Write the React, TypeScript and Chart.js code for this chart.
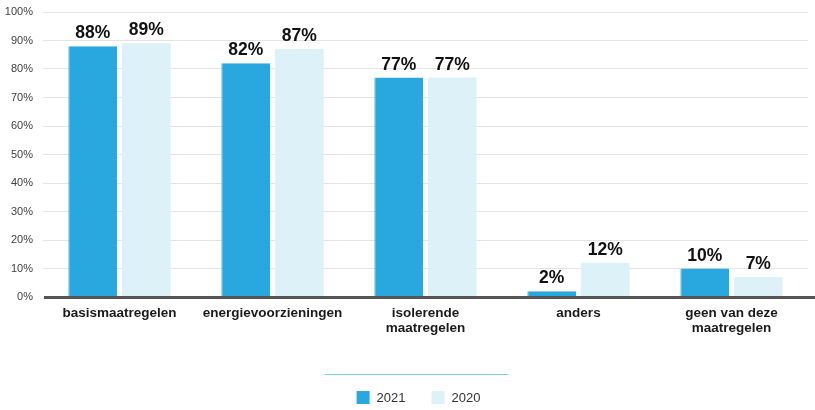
import React, { useEffect, useRef } from "react";
import { Chart, registerables } from "chart.js";

Chart.register(...registerables);

const categories: (string | string[])[] = [
  "basismaatregelen",
  "energievoorzieningen",
  ["isolerende", "maatregelen"],
  "anders",
  ["geen van deze", "maatregelen"],
];
const values2021 = [88, 82, 77, 2, 10];
const values2020 = [89, 87, 77, 12, 7];
const seriesLabels = ["2021", "2020"];
const yTicks = [0, 10, 20, 30, 40, 50, 60, 70, 80, 90, 100];

const FONT = "Arial, 'Liberation Sans', sans-serif";

const overlayPlugin = {
  id: "overlay",
  afterDatasetsDraw(chart: any) {
    const ctx = chart.ctx;
    const area = chart.chartArea;
    const yScale = chart.scales.y;
    const y0 = yScale.getPixelForValue(0);
    ctx.save();
    // zero axis line
    ctx.strokeStyle = "#555555";
    ctx.lineWidth = 3;
    ctx.beginPath();
    ctx.moveTo(area.left + 1, y0 + 0.5);
    ctx.lineTo(chart.width, y0 + 0.5);
    ctx.stroke();

    // value labels
    ctx.font = `bold 17.5px ${FONT}`;
    ctx.fillStyle = "#111111";
    ctx.textAlign = "center";
    ctx.textBaseline = "bottom";
    chart.data.datasets.forEach((ds: any, di: number) => {
      const meta = chart.getDatasetMeta(di);
      meta.data.forEach((bar: any, i: number) => {
        ctx.fillText(`${ds.data[i]}%`, bar.x, bar.y - 4);
      });
    });

    // separator line above legend
    const cx = (area.left + area.right) / 2;
    ctx.strokeStyle = "#7fd2dd";
    ctx.lineWidth = 1;
    ctx.beginPath();
    ctx.moveTo(cx - 101, 374.5);
    ctx.lineTo(cx + 83, 374.5);
    ctx.stroke();

    // legend
    ctx.font = `13px ${FONT}`;
    ctx.textAlign = "left";
    ctx.textBaseline = "middle";
    const box = 13;
    const gapText = 7;
    const gapItems = 26;
    const items = chart.data.datasets.map((ds: any) => ({
      label: ds.label,
      color: ds.backgroundColor,
      w: box + gapText + ctx.measureText(ds.label).width,
    }));
    const total = items.reduce((s: number, it: any) => s + it.w, 0) + gapItems * (items.length - 1);
    let x = cx - 7 - total / 2;
    const ly = 391;
    items.forEach((it: any) => {
      ctx.fillStyle = it.color;
      ctx.fillRect(x, ly, box, box);
      ctx.fillStyle = "#333333";
      ctx.fillText(it.label, x + box + gapText, ly + box / 2 + 0.5);
      x += it.w + gapItems;
    });
    ctx.restore();
  },
};

export default function App() {
  const canvasRef = useRef<HTMLCanvasElement | null>(null);

  useEffect(() => {
    if (!canvasRef.current) return;
    const chart = new Chart(canvasRef.current, {
      type: "bar",
      data: {
        labels: categories,
        datasets: [
          {
            label: seriesLabels[0],
            data: values2021,
            backgroundColor: "#29a8df",
            borderColor: "#20b5c6",
            borderWidth: { left: 1, right: 0, top: 0, bottom: 0 },
            borderSkipped: false,
            categoryPercentage: 0.7,
            barPercentage: 0.91,
          },
          {
            label: seriesLabels[1],
            data: values2020,
            backgroundColor: "#ddf1f9",
            borderWidth: 0,
            categoryPercentage: 0.7,
            barPercentage: 0.91,
          },
        ],
      },
      options: {
        responsive: false,
        animation: false,
        maintainAspectRatio: false,
        layout: { padding: { top: 12, right: 7, bottom: 73, left: 0 } },
        plugins: {
          legend: { display: false },
          tooltip: { enabled: false },
        },
        scales: {
          x: {
            grid: { display: false, drawTicks: false },
            border: { display: false },
            ticks: {
              color: "#1a1a1a",
              font: { family: FONT, size: 13.5, weight: "bold", lineHeight: 1.1 },
              padding: 9,
              maxRotation: 0,
              autoSkip: false,
            },
            afterFit(scale: any) {
              scale.height = 40;
            },
          },
          y: {
            min: 0,
            max: 100,
            grid: { color: "#e3e3e3", lineWidth: 1, drawTicks: false },
            border: { display: false },
            afterBuildTicks(scale: any) {
              scale.ticks = yTicks.map((v) => ({ value: v }));
            },
            ticks: {
              color: "#404040",
              font: { family: FONT, size: 11 },
              padding: 10,
              callback: (v: any) => `${v}%`,
            },
            afterFit(scale: any) {
              scale.width = 43;
              scale.paddingTop = 0;
              scale.paddingBottom = 0;
            },
          },
        },
      },
      plugins: [overlayPlugin],
    });
    return () => chart.destroy();
  }, []);

  return (
    <div style={{ position: "absolute", left: 0, top: 0, width: 815, height: 410, background: "#ffffff" }}>
      <canvas ref={canvasRef} width={815} height={410} style={{ width: 815, height: 410, display: "block" }} />
    </div>
  );
}
